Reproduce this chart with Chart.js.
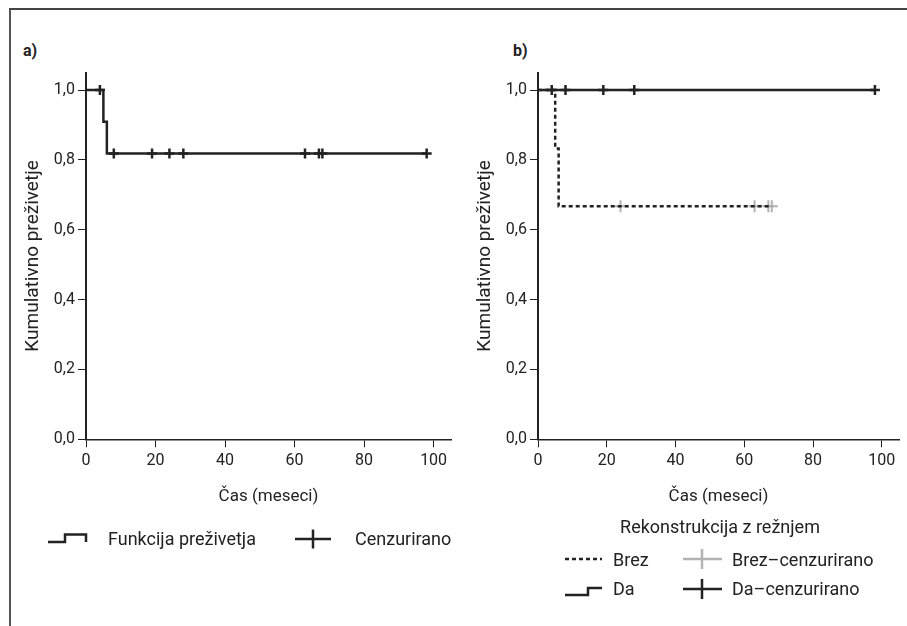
<!DOCTYPE html>
<html>
<head>
<meta charset="utf-8">
<script src="https://cdn.jsdelivr.net/npm/chart.js@4"></script>
<style>
body { margin:0; background:#fff; width:907px; height:626px; overflow:hidden; position:relative;
  font-family: Roboto, "Open Sans", sans-serif; color:#222; }
#frame { position:absolute; left:9px; top:8px; width:920px; height:640px;
  border-top:2px solid #444; border-left:2px solid #555; }
.lab { position:absolute; font-weight:bold; font-size:16px; }
.cv { position:absolute; }
.txt { position:absolute; font-size:18px; line-height:22px; white-space:nowrap; }
svg { position:absolute; overflow:visible; }
</style>
</head>
<body>
<div id="frame"></div>
<div class="lab" style="left:23px;top:41px">a)</div>
<div class="lab" style="left:513px;top:41px">b)</div>
<div class="cv" style="left:10px;top:60px;width:450px;height:450px"><canvas id="graph1"></canvas></div>
<div class="cv" style="left:462px;top:60px;width:445px;height:450px"><canvas id="graph2"></canvas></div>

<!-- legenda -->
<svg style="left:0;top:0" width="907" height="626">
  <path d="M48 542 H65 V534.5 H86 V542" fill="none" stroke="#222" stroke-width="2.5"/>
  <path d="M295 539 H331 M313 529.5 V548.5" fill="none" stroke="#222" stroke-width="2.5"/>
  <path d="M565 559 H602" fill="none" stroke="#222" stroke-width="2.5" stroke-dasharray="4,3"/>
  <path d="M683 559 H722 M702 549 V569" fill="none" stroke="#b3b3b3" stroke-width="2.5"/>
  <path d="M565 595 H588 V588 H602" fill="none" stroke="#222" stroke-width="2.5"/>
  <path d="M683 589 H722 M702 579 V599" fill="none" stroke="#222" stroke-width="2.5"/>
</svg>
<div class="txt" style="left:108px;top:528px">Funkcija preživetja</div>
<div class="txt" style="left:355px;top:528px">Cenzurirano</div>
<div class="txt" style="left:610px;top:516px;width:220px;text-align:center">Rekonstrukcija z režnjem</div>
<div class="txt" style="left:613px;top:549px">Brez</div>
<div class="txt" style="left:732px;top:549px">Brez–cenzurirano</div>
<div class="txt" style="left:613px;top:578px">Da</div>
<div class="txt" style="left:732px;top:578px">Da–cenzurirano</div>

<script>
// a) vsi bolniki
var aTime = [0, 5, 6, 98];
var aSurv = [1, 0.909, 0.818, 0.818];
var aCensTime = [4, 8, 19, 24, 28, 63, 67, 68, 98];
var aCensSurv = [1, 0.818, 0.818, 0.818, 0.818, 0.818, 0.818, 0.818, 0.818];

// b) rekonstrukcija z režnjem
var brezTime = [0, 5, 6, 68];
var brezSurv = [1, 0.833, 0.667, 0.667];
var brezCensTime = [24, 63, 67, 68];
var brezCensSurv = [0.667, 0.667, 0.667, 0.667];
var daTime = [0, 98];
var daSurv = [1, 1];
var daCensTime = [4, 8, 19, 28, 98];
var daCensSurv = [1, 1, 1, 1, 1];

var xTicks = [0, 20, 40, 60, 80, 100];
var yTicks = [0, 0.2, 0.4, 0.6, 0.8, 1.0];
var yTickLabels = ['0,0', '0,2', '0,4', '0,6', '0,8', '1,0'];

function pts(xs, ys) {
    var out = [];
    for (var i = 0; i < xs.length; i++) out.push({x: xs[i], y: ys[i]});
    return out;
}

var dark = '#222';
var tickFont = {family: 'Roboto', size: 16};

function makeOptions(rightPad) {
    return {
        responsive: true,
        maintainAspectRatio: false,
        animation: false,
        layout: {padding: {top: 11.7, right: rightPad, bottom: 0, left: 0}},
        plugins: {legend: {display: false}, tooltip: {enabled: false}},
        scales: {
            x: {
                type: 'linear', min: 0, max: 105,
                afterBuildTicks: function (ax) { ax.ticks = xTicks.map(function (v) { return {value: v}; }); },
                afterFit: function (ax) { ax.height = 70.7; },
                ticks: {color: dark, font: tickFont, padding: 4, maxRotation: 0},
                grid: {drawOnChartArea: false, tickLength: 8, tickColor: dark, tickWidth: 1},
                border: {color: dark, width: 1.5},
                title: {display: true, text: 'Čas (meseci)', color: dark, font: {family: 'Roboto', size: 17},
                    padding: {top: 0, bottom: 2.8}}
            },
            y: {
                type: 'linear', min: 0, max: 1.05,
                afterBuildTicks: function (ax) { ax.ticks = yTicks.map(function (v) { return {value: v}; }); },
                afterFit: function (ax) { ax.width = 76; },
                ticks: {color: dark, font: tickFont, padding: 3,
                    callback: function (v) { return yTickLabels[yTicks.indexOf(v)]; }},
                grid: {drawOnChartArea: false, tickLength: 8, tickColor: dark, tickWidth: 1},
                border: {color: dark, width: 2},
                title: {display: true, text: 'Kumulativno preživetje', color: dark, font: {family: 'Roboto', size: 19},
                    padding: {top: 11.6, bottom: 0}}
            }
        }
    };
}

function stepLine(data, color, dash) {
    return {type: 'line', data: data, borderColor: color, borderWidth: 2.5, borderDash: dash || [],
        stepped: true, pointRadius: 0, fill: false, clip: false};
}
function censor(data, color, r, w) {
    return {type: 'scatter', data: data, showLine: false, pointStyle: 'cross', pointRadius: r,
        pointBorderColor: color, pointBorderWidth: w, clip: false};
}

new Chart(document.getElementById('graph1'), {
    type: 'line',
    data: {datasets: [
        stepLine(pts(aTime, aSurv), dark),
        censor(pts(aCensTime, aCensSurv), dark, 5, 2.5)
    ]},
    options: makeOptions(9)
});

new Chart(document.getElementById('graph2'), {
    type: 'line',
    data: {datasets: [
        stepLine(pts(brezTime, brezSurv), dark, [4, 3]),
        censor(pts(brezCensTime, brezCensSurv), '#b3b3b3', 6, 2),
        stepLine(pts(daTime, daSurv), dark),
        censor(pts(daCensTime, daCensSurv), dark, 5, 2.5)
    ]},
    options: makeOptions(4)
});
</script>
</body>
</html>
